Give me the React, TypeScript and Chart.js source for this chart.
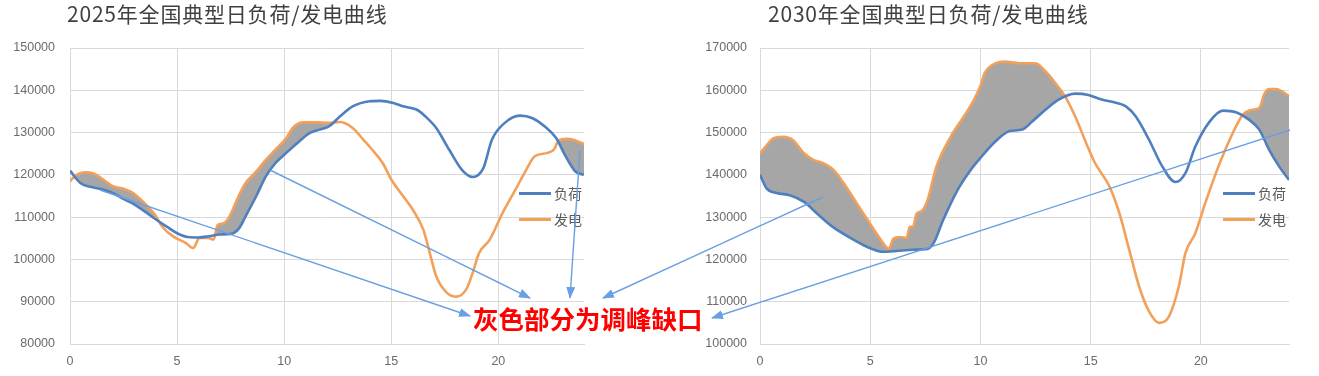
import React, { useEffect, useRef } from "react";
import { Chart, registerables } from "chart.js";

Chart.register(...registerables);

// ---------- text ----------
const TITLE_2025 = "2025年全国典型日负荷/发电曲线";
const TITLE_2030 = "2030年全国典型日负荷/发电曲线";
const SERIES_NAMES = ["负荷", "发电"];
const NOTE_TEXT = "灰色部分为调峰缺口";

// ---------- axes ----------
const X_MIN = 0;
const X_MAX = 24;
const X_STEP = 5;
const Y_STEP = 10000;
const Y_RANGE_2025 = [80000, 150000];
const Y_RANGE_2030 = [100000, 170000];

// ---------- 2025 data ----------
const load2025Hours = [0, 0.5, 1, 1.5, 2, 2.5, 3, 3.5, 4, 4.5, 5, 5.5, 6, 6.5, 7, 7.5, 7.9, 8.2, 8.7, 9.15, 9.6, 10.1, 10.7, 11.2, 11.65, 12.1, 12.6, 13.2, 14, 14.5, 15.1, 15.55, 16.2, 16.6, 17.1, 17.7, 18.3, 18.8, 19.3, 19.7, 20.3, 21, 21.6, 22.2, 22.7, 23.1, 23.6, 24];
const load2025 = [121000, 118000, 117100, 116600, 115700, 114300, 113000, 111300, 109500, 107800, 106200, 105300, 105200, 105500, 105900, 106000, 107400, 110200, 115000, 119700, 122800, 125200, 127900, 129900, 130700, 131500, 133800, 136200, 137400, 137500, 137000, 136200, 135400, 133800, 131100, 126000, 121200, 119500, 121600, 128300, 132300, 134000, 133400, 131300, 128700, 124800, 120800, 120000];

const gen2025Hours = [0, 0.3, 0.7, 1.1, 1.55, 2, 2.5, 2.95, 3.4, 3.9, 4.35, 4.8, 5.4, 5.75, 6.05, 6.45, 6.7, 6.9, 7.15, 7.45, 7.9, 8.2, 8.7, 9.15, 9.6, 10.1, 10.4, 10.9, 11.5, 12.1, 12.6, 13.2, 13.7, 14.1, 14.6, 15, 15.55, 16, 16.5, 16.8, 17.1, 17.6, 18.05, 18.5, 18.8, 19.1, 19.6, 20.2, 20.8, 21.3, 21.7, 22.3, 22.6, 22.8, 23.2, 23.5, 24];
const gen2025 = [118500, 120000, 120600, 120300, 118900, 117300, 116700, 115700, 113700, 111000, 107500, 105500, 103900, 102700, 105100, 105100, 104700, 108200, 108500, 110200, 115300, 118100, 120800, 123600, 126000, 128700, 131100, 132400, 132400, 132300, 132500, 131100, 128300, 126000, 122800, 118900, 115000, 111800, 107000, 101500, 96000, 92100, 91200, 92900, 96800, 101500, 104700, 111000, 116500, 121200, 124400, 125200, 126000, 128000, 128500, 128300, 127300];

// ---------- 2030 data ----------
const load2030Hours = [0, 0.3, 0.75, 1.35, 2, 2.6, 3.3, 4.1, 4.85, 5.6, 6.2, 6.95, 7.6, 7.9, 8.3, 8.95, 9.55, 10, 10.7, 11.3, 11.9, 12.35, 12.95, 13.55, 14.3, 14.9, 15.5, 16.1, 16.6, 17.05, 17.65, 18.25, 18.85, 19.3, 19.75, 20.4, 21, 21.6, 22.2, 22.65, 23.1, 23.55, 24];
const load2030 = [140000, 136800, 135700, 135200, 133600, 130800, 127700, 125100, 123000, 121800, 122000, 122300, 122500, 124100, 129200, 136300, 141100, 144000, 148000, 150300, 150700, 152600, 155400, 157800, 159200, 158900, 157800, 157100, 156200, 153800, 148300, 142000, 138300, 140400, 146700, 152600, 155200, 154800, 153000, 150700, 145900, 142000, 138800];

const gen2030Hours = [0, 0.3, 0.6, 1.05, 1.5, 2, 2.4, 2.9, 3.35, 3.8, 4.4, 5, 5.45, 5.85, 6.05, 6.3, 6.65, 6.8, 6.95, 7.1, 7.35, 7.6, 8, 8.65, 9.25, 9.7, 10, 10.2, 10.7, 11.1, 11.75, 12.5, 12.95, 13.4, 13.85, 14.3, 14.8, 15.2, 15.85, 16.3, 16.75, 17.2, 17.65, 18.1, 18.55, 19, 19.3, 19.75, 20.2, 20.8, 21.45, 21.9, 22.35, 22.65, 22.9, 23.1, 23.4, 24];
const gen2030 = [145100, 147000, 148600, 149000, 148200, 145100, 143600, 142700, 141100, 138000, 133200, 128400, 124900, 122500, 124900, 125300, 125100, 127700, 127800, 130800, 131500, 134000, 141900, 149000, 153800, 157700, 161000, 164100, 166400, 166800, 166400, 166400, 164500, 161700, 158500, 153800, 147500, 142800, 137300, 131000, 122300, 113600, 107700, 105000, 106500, 113600, 121500, 126200, 133300, 142000, 149900, 154200, 155400, 155800, 159300, 160300, 160300, 158700];

// ---------- styles ----------
const BLUE = "#4f7fbf";
const ORANGE = "#f2a05a";
const GAP_GRAY = "#a6a6a6";
const GRID = "#d9d9d9";
const TICK_COLOR = "#6b6b6b";
const ARROW = "#6a9fe2";
const TICK_FONT = { family: "'Liberation Sans', Arial, sans-serif", size: 12.5 };

type PanelProps = {
  left: number;
  width: number;
  axisWidth: number;
  padRight: number;
  labelPad: number;
  yRange: number[];
  loadH: number[];
  loadV: number[];
  genH: number[];
  genV: number[];
};

function Panel(p: PanelProps) {
  const ref = useRef<HTMLCanvasElement | null>(null);
  useEffect(() => {
    if (!ref.current) return;
    const chart = new Chart(ref.current, {
      type: "line",
      data: {
        datasets: [
          {
            label: SERIES_NAMES[0],
            data: p.loadH.map((h, i) => ({ x: h, y: p.loadV[i] })),
            borderColor: BLUE,
            borderWidth: 2.6,
            pointRadius: 0,
            cubicInterpolationMode: "monotone",
            fill: false,
          },
          {
            label: SERIES_NAMES[1],
            data: p.genH.map((h, i) => ({ x: h, y: p.genV[i] })),
            borderColor: ORANGE,
            borderWidth: 2.6,
            pointRadius: 0,
            cubicInterpolationMode: "monotone",
            fill: { target: 0, above: GAP_GRAY, below: "rgba(0,0,0,0)" },
          },
        ],
      },
      options: {
        animation: false,
        responsive: false,
        maintainAspectRatio: false,
        layout: { padding: { left: 0, right: p.padRight, top: 48, bottom: 0 } },
        plugins: {
          legend: { display: false },
          tooltip: { enabled: false },
          title: { display: false },
        },
        scales: {
          x: {
            type: "linear",
            min: X_MIN,
            max: X_MAX,
            afterFit: (s: any) => {
              s.height = 32;
            },
            ticks: {
              stepSize: X_STEP,
              includeBounds: false,
              padding: 10,
              color: TICK_COLOR,
              font: TICK_FONT,
              callback: (v: any) => String(v),
            },
            grid: { color: GRID, drawTicks: false, lineWidth: 1 },
            border: { color: GRID },
          },
          y: {
            type: "linear",
            min: p.yRange[0],
            max: p.yRange[1],
            afterFit: (s: any) => {
              s.width = p.axisWidth;
            },
            ticks: {
              stepSize: Y_STEP,
              padding: p.labelPad,
              color: TICK_COLOR,
              font: TICK_FONT,
              callback: (v: any) => String(v),
            },
            grid: { color: GRID, drawTicks: false, lineWidth: 1 },
            border: { color: GRID },
          },
        },
      } as any,
    });
    return () => chart.destroy();
  }, []);
  return (
    <canvas
      ref={ref}
      width={p.width}
      height={376}
      style={{ position: "absolute", left: p.left, top: 0, width: p.width, height: 376 }}
    />
  );
}

const titleStyle = (left: number): React.CSSProperties => ({
  position: "absolute",
  left,
  top: 1,
  fontFamily: "'Noto Sans CJK SC', sans-serif",
  fontSize: 21,
  lineHeight: "24px",
  letterSpacing: 0.8,
  color: "#404040",
  whiteSpace: "nowrap",
});

function LegendItem({ x, y, color, text }: { x: number; y: number; color: string; text: string }) {
  return (
    <div style={{ position: "absolute", left: x, top: y - 10, height: 20, display: "flex", alignItems: "center" }}>
      <div style={{ width: 32, height: 3, background: color }} />
      <span
        style={{
          marginLeft: 3,
          fontFamily: "'Noto Sans CJK SC', sans-serif",
          fontSize: 14,
          color: "#595959",
          lineHeight: "20px",
        }}
      >
        {text}
      </span>
    </div>
  );
}

export default function App() {
  const arrows = [
    [100, 190, 470, 316],
    [270, 170, 530, 298],
    [580, 150, 570, 298],
    [823, 197, 603, 298],
    [1290, 130, 712, 318],
  ];
  return (
    <div style={{ position: "absolute", left: 0, top: 0, width: 1319, height: 376, background: "#fff", overflow: "hidden" }}>
      <Panel
        left={0}
        width={660}
        axisWidth={70}
        padRight={76}
        labelPad={15}
        yRange={Y_RANGE_2025}
        loadH={load2025Hours}
        loadV={load2025}
        genH={gen2025Hours}
        genV={gen2025}
      />
      <Panel
        left={660}
        width={659}
        axisWidth={100}
        padRight={30}
        labelPad={13}
        yRange={Y_RANGE_2030}
        loadH={load2030Hours}
        loadV={load2030}
        genH={gen2030Hours}
        genV={gen2030}
      />
      <div style={titleStyle(67)}>{TITLE_2025}</div>
      <div style={titleStyle(768)}>{TITLE_2030}</div>
      <LegendItem x={519} y={193} color={BLUE} text={SERIES_NAMES[0]} />
      <LegendItem x={519} y={219} color={ORANGE} text={SERIES_NAMES[1]} />
      <LegendItem x={1223} y={193} color={BLUE} text={SERIES_NAMES[0]} />
      <LegendItem x={1223} y={219} color={ORANGE} text={SERIES_NAMES[1]} />
      <svg
        width={1319}
        height={376}
        style={{ position: "absolute", left: 0, top: 0, pointerEvents: "none" }}
      >
        <defs>
          <marker id="ah" markerWidth="12" markerHeight="9" refX="11" refY="4.5" orient="auto" markerUnits="userSpaceOnUse">
            <path d="M0,0 L12,4.5 L0,9 z" fill={ARROW} />
          </marker>
        </defs>
        {arrows.map((a, i) => (
          <line key={i} x1={a[0]} y1={a[1]} x2={a[2]} y2={a[3]} stroke={ARROW} strokeWidth={1.4} markerEnd="url(#ah)" />
        ))}
      </svg>
      <div
        style={{
          position: "absolute",
          left: 473,
          top: 303,
          fontFamily: "'Noto Sans CJK SC', sans-serif",
          fontWeight: 700,
          fontSize: 25.5,
          lineHeight: "30px",
          color: "#ff0000",
          whiteSpace: "nowrap",
        }}
      >
        {NOTE_TEXT}
      </div>
    </div>
  );
}
